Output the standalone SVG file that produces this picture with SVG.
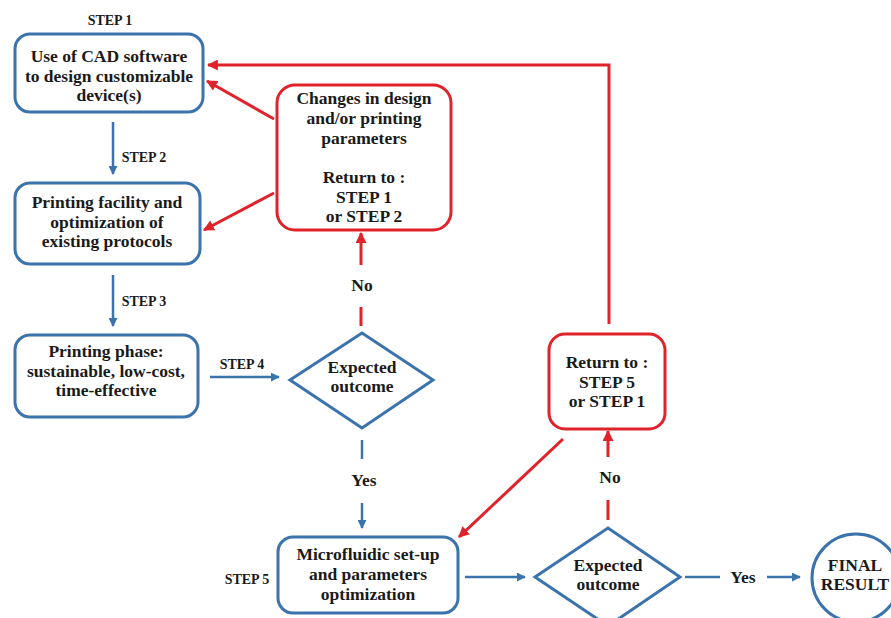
<svg xmlns="http://www.w3.org/2000/svg" width="891" height="618" viewBox="0 0 891 618">
<defs>
<style>
text{font-family:"Liberation Serif","Times New Roman",serif;font-weight:bold;fill:#1a1a1a;text-anchor:middle}
.n{font-size:17.5px}
.s{font-size:14px}
.bb{fill:#fff;stroke:#3b73ad;stroke-width:3}
.rb{fill:#fff;stroke:#e0222a;stroke-width:3}
.bl{stroke:#3b73ad;stroke-width:2.5;fill:none}
.rl{stroke:#e0222a;stroke-width:3;fill:none}
</style>
<marker id="ab" viewBox="0 0 10 10" refX="9" refY="5" markerWidth="9" markerHeight="9" markerUnits="userSpaceOnUse" orient="auto"><path d="M0,0 L10,5 L0,10 z" fill="#3b73ad"/></marker>
<marker id="ar" viewBox="0 0 10 10" refX="9" refY="5" markerWidth="11" markerHeight="11" markerUnits="userSpaceOnUse" orient="auto"><path d="M0,0 L10,5 L0,10 z" fill="#e0222a"/></marker>
</defs>
<rect width="891" height="618" fill="#fff"/>

<g id="connectors">
<line class="bl" x1="113" y1="122" x2="113" y2="174" marker-end="url(#ab)"/>
<line class="bl" x1="113" y1="275" x2="113" y2="326" marker-end="url(#ab)"/>
<line class="bl" x1="210" y1="377" x2="279" y2="377" marker-end="url(#ab)"/>
<line class="bl" x1="362" y1="440" x2="362" y2="459"/>
<line class="bl" x1="362" y1="503" x2="362" y2="528" marker-end="url(#ab)"/>
<line class="bl" x1="465" y1="577" x2="525" y2="577" marker-end="url(#ab)"/>
<line class="bl" x1="685" y1="577" x2="720" y2="577"/>
<line class="bl" x1="767" y1="577" x2="800" y2="577" marker-end="url(#ab)"/>
<line class="rl" x1="361" y1="307" x2="361" y2="326"/>
<line class="rl" x1="361" y1="265" x2="361" y2="233" marker-end="url(#ar)"/>
<line class="rl" x1="274" y1="119" x2="207" y2="81" marker-end="url(#ar)"/>
<line class="rl" x1="274" y1="193" x2="204" y2="230" marker-end="url(#ar)"/>
<polyline class="rl" points="609,324 609,65 208,65" marker-end="url(#ar)"/>
<line class="rl" x1="608" y1="500" x2="608" y2="520"/>
<line class="rl" x1="608" y1="457" x2="608" y2="431" marker-end="url(#ar)"/>
<line class="rl" x1="563" y1="439" x2="459" y2="537" marker-end="url(#ar)"/>
<text class="s" x="110" y="25">STEP 1</text>
<text class="s" x="144" y="162">STEP 2</text>
<text class="s" x="144" y="306">STEP 3</text>
<text class="s" x="242" y="369">STEP 4</text>
<text class="s" x="247" y="584">STEP 5</text>
<text class="n" x="362" y="291">No</text>
<text class="n" x="364" y="486">Yes</text>
<text class="n" x="610" y="483">No</text>
<text class="n" x="743" y="583">Yes</text>
</g>

<g id="step1">
<rect class="bb" x="15" y="34" width="188" height="78" rx="15"/>
<text class="n" x="109" y="62">Use of CAD software</text>
<text class="n" x="109" y="82">to design customizable</text>
<text class="n" x="109" y="101">device(s)</text>
</g>
<g id="step2">
<rect class="bb" x="15" y="183" width="185" height="81" rx="15"/>
<text class="n" x="107" y="208">Printing facility and</text>
<text class="n" x="107" y="228">optimization of</text>
<text class="n" x="107" y="247">existing protocols</text>
</g>
<g id="step3">
<rect class="bb" x="15" y="335" width="183" height="82" rx="15"/>
<text class="n" x="106" y="357">Printing phase:</text>
<text class="n" x="106" y="377">sustainable, low-cost,</text>
<text class="n" x="106" y="396">time-effective</text>
</g>
<g id="decision1">
<polygon class="bb" points="290,380 362,333 433,380 362,428"/>
<text class="n" x="362" y="373">Expected</text>
<text class="n" x="362" y="392">outcome</text>
</g>
<g id="changes">
<rect class="rb" x="277" y="85" width="174" height="145" rx="18"/>
<text class="n" x="364" y="104">Changes in design</text>
<text class="n" x="364" y="124">and/or printing</text>
<text class="n" x="364" y="144">parameters</text>
<text class="n" x="364" y="183">Return to :</text>
<text class="n" x="364" y="203">STEP 1</text>
<text class="n" x="364" y="222">or STEP 2</text>
</g>
<g id="step5">
<rect class="bb" x="278" y="537" width="180" height="76" rx="15"/>
<text class="n" x="368" y="560">Microfluidic set-up</text>
<text class="n" x="368" y="580">and parameters</text>
<text class="n" x="368" y="600">optimization</text>
</g>
<g id="decision2">
<polygon class="bb" points="535,577 608,528 680,577 608,626"/>
<text class="n" x="608" y="571">Expected</text>
<text class="n" x="608" y="590">outcome</text>
</g>
<g id="return2">
<rect class="rb" x="549" y="334" width="116" height="95" rx="16"/>
<text class="n" x="607" y="368">Return to :</text>
<text class="n" x="607" y="388">STEP 5</text>
<text class="n" x="607" y="407">or STEP 1</text>
</g>
<g id="final">
<circle class="bb" cx="856" cy="578" r="44"/>
<text class="n" x="855" y="571">FINAL</text>
<text class="n" x="855" y="590">RESULT</text>
</g>
</svg>
